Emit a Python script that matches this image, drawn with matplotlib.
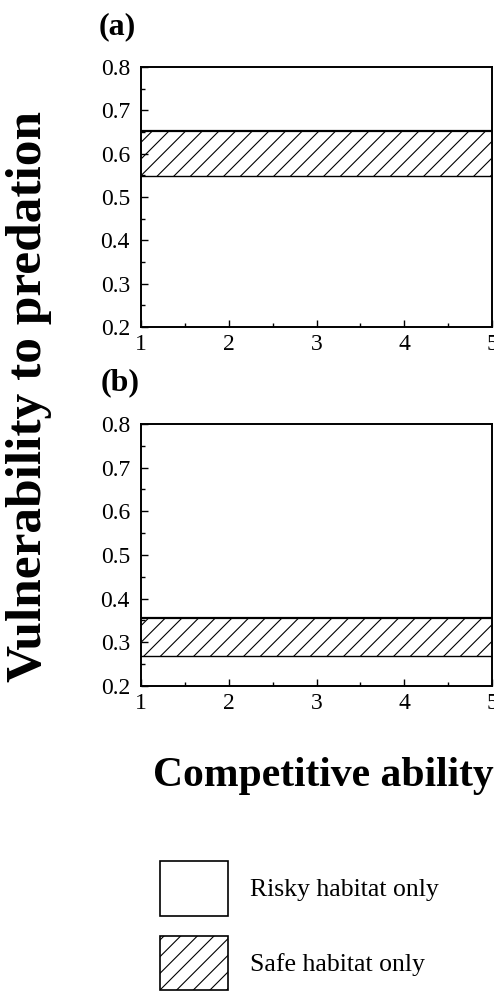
import matplotlib
matplotlib.use("Agg")
import matplotlib.pyplot as plt
from matplotlib.patches import Patch
from matplotlib.ticker import MultipleLocator

plt.rcParams['font.family'] = ['Liberation Serif', 'DejaVu Serif']
plt.rcParams['hatch.linewidth'] = 0.8

# ---- data ----
panel_labels = ['(a)', '(b)']
safe_lower = [0.548, 0.268]
safe_upper = [0.652, 0.355]
x_min, x_max = 1, 5
y_min, y_max = 0.2, 0.8
x_ticks = [1, 2, 3, 4, 5]
y_ticks = [0.2, 0.3, 0.4, 0.5, 0.6, 0.7, 0.8]
legend_labels = ['Risky habitat only', 'Safe habitat only']

W, H = 494, 994
fig = plt.figure(figsize=(W / 100, H / 100), dpi=100)

axes_boxes = [(141, 67, 492, 327), (141, 424, 492, 686)]
label_pos = [(117, 27), (120, 383)]

for i, (x0, y0, x1, y1) in enumerate(axes_boxes):
    ax = fig.add_axes([x0 / W, 1 - y1 / H, (x1 - x0) / W, (y1 - y0) / H])
    ax.set_xlim(x_min, x_max)
    ax.set_ylim(y_min, y_max)
    ax.axhspan(safe_lower[i], safe_upper[i], facecolor='white', edgecolor='black',
               hatch='//', linewidth=0, zorder=1)
    ax.axhline(safe_upper[i], color='black', linewidth=1.6, zorder=2)
    ax.axhline(safe_lower[i], color='black', linewidth=1.0, zorder=2)
    ax.set_xticks(x_ticks)
    ax.set_yticks(y_ticks)
    ax.set_yticklabels([f'{v:.1f}' for v in y_ticks])
    ax.xaxis.set_minor_locator(MultipleLocator(0.5))
    ax.yaxis.set_minor_locator(MultipleLocator(0.05))
    ax.tick_params(which='both', direction='in', top=False, right=False,
                   labelsize=17, width=1.0)
    ax.tick_params(which='major', length=5)
    ax.tick_params(which='minor', length=3)
    ax.tick_params(axis='y', pad=8)
    ax.tick_params(axis='x', pad=5)
    for s in ax.spines.values():
        s.set_linewidth(1.4)
    fig.text(label_pos[i][0] / W, 1 - label_pos[i][1] / H, panel_labels[i],
             fontsize=23, fontweight='bold', ha='center', va='center')

fig.text(29 / W, 1 - 397 / H, 'Vulnerability to predation', rotation=90,
         fontsize=37, fontweight='bold', ha='center', va='center')
fig.text(323 / W, 1 - 776 / H, 'Competitive ability',
         fontsize=30, fontweight='bold', ha='center', va='center')

handles = [Patch(facecolor='white', edgecolor='black', linewidth=1.2),
           Patch(facecolor='white', edgecolor='black', linewidth=1.2, hatch='//')]
leg = fig.legend(handles, legend_labels, loc='upper left',
                 bbox_to_anchor=(160 / W, 1 - 861 / H), frameon=False,
                 fontsize=18.5, handlelength=2.65, handleheight=2.9,
                 handletextpad=0.85, labelspacing=0.78, borderaxespad=0,
                 borderpad=0)

fig.savefig('out.png', dpi=100)
